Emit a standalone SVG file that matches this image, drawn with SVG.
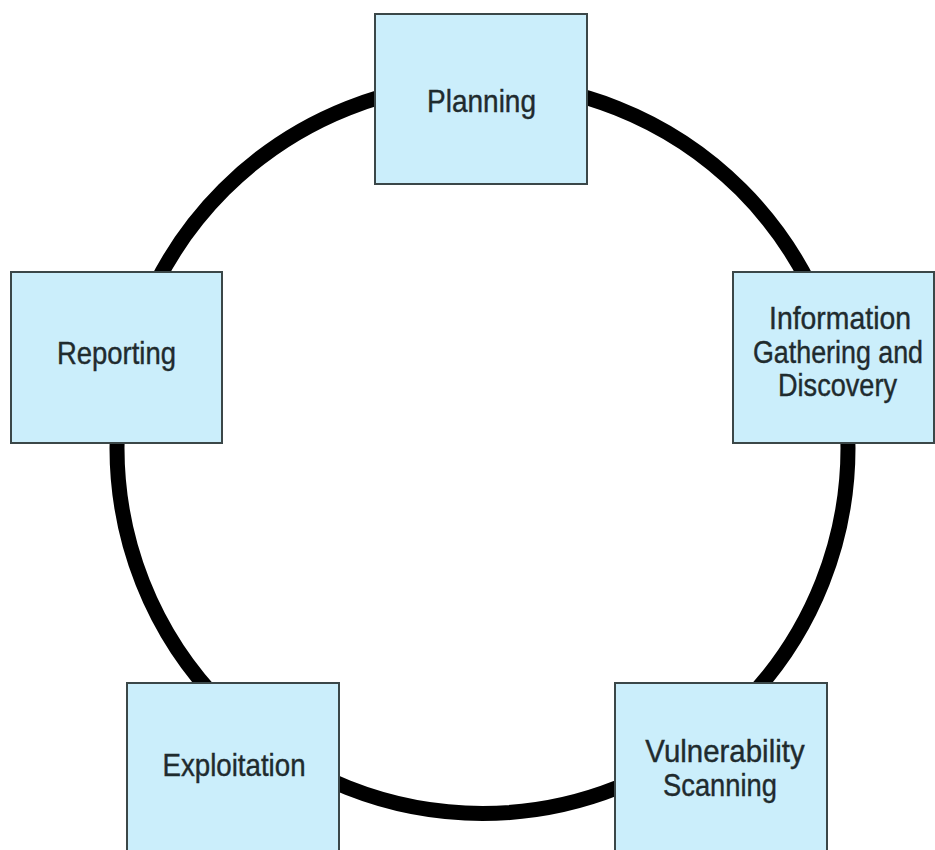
<svg xmlns="http://www.w3.org/2000/svg" width="935" height="850" viewBox="0 0 935 850">
  <style>
    .box { fill: #cbeefb; stroke: #3b4748; stroke-width: 2; }
    .lbl { font-family: "Liberation Sans", Arial, sans-serif; font-size: 31px; fill: #1f2b2e; stroke: #1f2b2e; stroke-width: 0.4; text-anchor: middle; }
    .ring { fill: none; stroke: #000; stroke-width: 15; }
  </style>
  <rect width="935" height="850" fill="#ffffff"/>
  <g id="connectors">
    <circle class="ring" cx="482.5" cy="448" r="365.5"/>
  </g>
  <g id="planning">
    <rect class="box" x="375" y="14" width="212" height="170"/>
    <text class="lbl" transform="translate(481.5,112) scale(0.904,1)">Planning</text>
  </g>
  <g id="information">
    <rect class="box" x="733" y="272" width="201" height="171"/>
    <text class="lbl" transform="translate(840,329) scale(0.916,1)">Information</text>
    <text class="lbl" transform="translate(838,363) scale(0.866,1)">Gathering and</text>
    <text class="lbl" transform="translate(837.5,396) scale(0.874,1)">Discovery</text>
  </g>
  <g id="vulnerability">
    <rect class="box" x="615" y="683" width="212" height="180"/>
    <text class="lbl" transform="translate(725,762) scale(0.95,1)">Vulnerability</text>
    <text class="lbl" transform="translate(720,796) scale(0.882,1)">Scanning</text>
  </g>
  <g id="exploitation">
    <rect class="box" x="127" y="683" width="212" height="180"/>
    <text class="lbl" transform="translate(234,776) scale(0.893,1)">Exploitation</text>
  </g>
  <g id="reporting">
    <rect class="box" x="11" y="272" width="211" height="171"/>
    <text class="lbl" transform="translate(116.5,364) scale(0.885,1)">Reporting</text>
  </g>
</svg>
